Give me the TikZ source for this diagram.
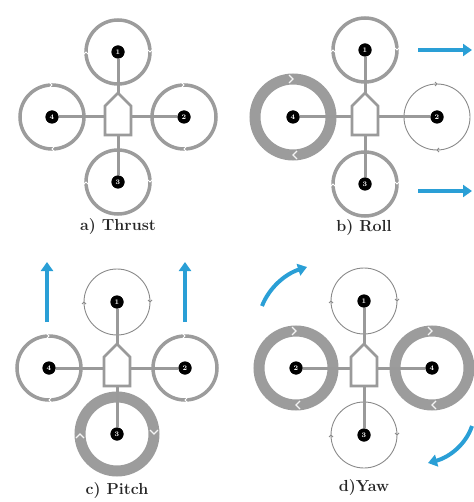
\documentclass[tikz,border=0pt]{standalone}
\usetikzlibrary{calc,arrows.meta}
\definecolor{ringgray}{HTML}{9C9C9C}
\definecolor{thingray}{HTML}{8A8A8A}
\definecolor{armgray}{HTML}{9A9A9A}
\definecolor{skyblue}{HTML}{2A9FD6}

% motor positions of one quadrotor: #1 prefix, #2/#3 centre, #4 side reach, #5 fore/aft reach
\newcommand\dronepos[5]{%
  \coordinate (#1c) at (#2,#3);
  \coordinate (#1P1) at ($(#1c)+(0,-#5)$);
  \coordinate (#1P3) at ($(#1c)+(0,#5)$);
  \coordinate (#1PL) at ($(#1c)+(-#4,0)$);
  \coordinate (#1PR) at ($(#1c)+(#4,0)$);
  \coordinate (#1tip) at ($(#1c)+(0,-24)$);
  \coordinate (#1bot) at ($(#1c)+(0,18)$);
  \coordinate (#1sl) at ($(#1c)+(-13,0)$);
  \coordinate (#1sr) at ($(#1c)+(13,0)$);
}
% arms, hull and numbered motors: #1 prefix, #2 left number, #3 right number
\newcommand\dronebody[3]{%
  \node[motor] (#1m1) at (#1P1) {1};
  \node[motor] (#1m3) at (#1P3) {3};
  \node[motor] (#1mL) at (#1PL) {#2};
  \node[motor] (#1mR) at (#1PR) {#3};
  \draw[arm] (#1m1) -- (#1tip);
  \draw[arm] (#1m3) -- (#1bot);
  \draw[arm] (#1mL) -- (#1sl);
  \draw[arm] (#1mR) -- (#1sr);
  \draw[hull] ($(#1c)+(-13,18)$) -- ($(#1c)+(-13,-11)$) -- (#1tip)
     -- ($(#1c)+(13,-11)$) -- ($(#1c)+(13,18)$) -- cycle;
  \node[motor] at (#1P1) {1};
  \node[motor] at (#1P3) {3};
  \node[motor] at (#1PL) {#2};
  \node[motor] at (#1PR) {#3};
}
% rotor disc with two direction marks: #1 ring style, #2 mark style, #3 centre,
% #4 radius, #5 angle of the marks, #6 mark size
\newcommand\rotor[6]{%
  \draw[#1] (#3) circle[radius=#4];
  \foreach \a in {0,180}{
    \begin{scope}[shift={(#3)}, rotate=\a+#5]
      \draw[#2] (#4-#6,-#6) -- (#4,0) -- (#4+#6,-#6);
    \end{scope}}
}

\begin{document}
\begin{tikzpicture}[x=1pt,y=-1pt,
  ring/.style={draw=ringgray, line width=3.5pt},
  thinring/.style={draw=thingray, line width=0.9pt},
  thickring/.style={draw=ringgray, line width=11pt},
  arm/.style={draw=armgray, line width=3pt},
  hull/.style={draw=armgray, line width=2.8pt, fill=white, line join=miter},
  motor/.style={circle, fill=black, inner sep=0pt, minimum size=13pt,
    text=white, font=\fontsize{7}{7}\selectfont\bfseries},
  caption/.style={font=\fontsize{16}{18}\selectfont\bfseries, text=black!85},
  push/.style={draw=skyblue, line width=4pt, -{Triangle[length=9pt,width=12pt]}},
  chev/.style={draw=white, line width=1pt},
  bigchev/.style={draw=white!90!ringgray, line width=1.2pt},
  tickmark/.style={draw=thingray, line width=0.8pt}
]
\useasboundingbox (0,0) rectangle (473,502);

% positions
\dronepos{a}{118}{117}{66}{65}
\dronepos{b}{365}{117}{72}{67}
\dronepos{c}{117}{368}{68}{66}
\dronepos{d}{364}{368}{68}{67}

% a) thrust: all rotors equal
\rotor{ring}{chev}{aP1}{32}{0}{2.5}
\rotor{ring}{chev}{aP3}{32}{0}{2.5}
\rotor{ring}{chev}{aPL}{32}{90}{2.5}
\rotor{ring}{chev}{aPR}{32}{90}{2.5}

% b) roll
\rotor{ring}{chev}{bP1}{32}{0}{2.5}
\rotor{ring}{chev}{bP3}{32}{0}{2.5}
\rotor{thickring}{bigchev}{bPL}{38}{90}{4}
\rotor{thinring}{tickmark}{bPR}{33}{90}{2}

% c) pitch
\rotor{thinring}{tickmark}{cP1}{33}{0}{2}
\rotor{thickring}{bigchev}{cP3}{37}{0}{4}
\rotor{ring}{chev}{cPL}{32}{90}{2.5}
\rotor{ring}{chev}{cPR}{32}{90}{2.5}

% d) yaw
\rotor{thinring}{tickmark}{dP1}{33}{0}{2}
\rotor{thinring}{tickmark}{dP3}{33}{0}{2}
\rotor{thickring}{bigchev}{dPL}{37}{90}{4}
\rotor{thickring}{bigchev}{dPR}{37}{90}{4}

\dronebody{a}{4}{2}
\dronebody{b}{4}{2}
\dronebody{c}{4}{2}
\dronebody{d}{2}{4}

% motion arrows
\coordinate (bA1) at (418,50);  \coordinate (bA2) at (472,50);
\coordinate (bB1) at (418,191); \coordinate (bB2) at (472,191);
\draw[push] (bA1) -- (bA2);
\draw[push] (bB1) -- (bB2);

\coordinate (cA1) at (47,322);  \coordinate (cA2) at (47,262);
\coordinate (cB1) at (185,322); \coordinate (cB2) at (185,262);
\draw[push] (cA1) -- (cA2);
\draw[push] (cB1) -- (cB2);

\coordinate (dA1) at (262,306); \coordinate (dA2) at (307,267);
\coordinate (dB1) at (472,426); \coordinate (dB2) at (428,463);
\draw[push] (dA1) .. controls (269,288) and (285,274) .. (dA2);
\draw[push] (dB1) .. controls (466,444) and (450,457) .. (dB2);

% captions
\node[caption] (capa) at (118,227) {a) Thrust};
\node[caption] (capb) at (364,228) {b) Roll};
\node[caption] (capc) at (117,491) {c) Pitch};
\node[caption] (capd) at (364,488) {d)Yaw};
\end{tikzpicture}
\end{document}
